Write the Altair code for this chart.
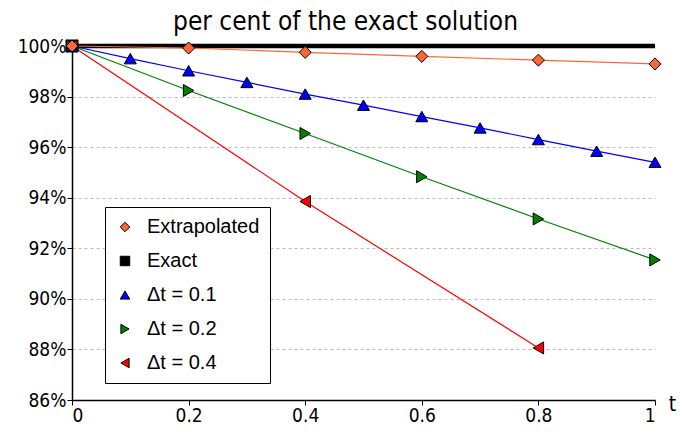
import altair as alt
import pandas as pd

series = ["Extrapolated", "Exact", "Δt = 0.1", "Δt = 0.2", "Δt = 0.4"]
colors = ["#FF6633", "#000000", "#0000FF", "#008000", "#FF0000"]
shapes = ["diamond", "square", "triangle-up", "triangle-right", "triangle-left"]

x_extra = [0, 0.2, 0.4, 0.6, 0.8, 1.0]
y_extra = [100, 99.92, 99.75, 99.59, 99.44, 99.29]
x_exact = [0, 1.0]
y_exact = [100, 100]
x_01 = [0, 0.1, 0.2, 0.3, 0.4, 0.5, 0.6, 0.7, 0.8, 0.9, 1.0]
y_01 = [100, 99.50, 99.02, 98.56, 98.10, 97.66, 97.21, 96.76, 96.30, 95.84, 95.40]
x_02 = [0, 0.2, 0.4, 0.6, 0.8, 1.0]
y_02 = [100, 98.24, 96.54, 94.83, 93.16, 91.54]
x_04 = [0, 0.4, 0.8]
y_04 = [100, 93.85, 88.06]

rows = []
for name, xs, ys in [("Exact", x_exact, y_exact), ("Δt = 0.4", x_04, y_04),
                     ("Δt = 0.2", x_02, y_02), ("Δt = 0.1", x_01, y_01),
                     ("Extrapolated", x_extra, y_extra)]:
    for xv, yv in zip(xs, ys):
        rows.append({"s": name, "x": xv, "y": yv})
df = pd.DataFrame(rows)
pts = df[~((df.s == "Exact") & (df.x > 0))]

xs_ = alt.X("x:Q", scale=alt.Scale(domain=[0, 1], nice=False),
            axis=alt.Axis(values=[0, 0.2, 0.4, 0.6, 0.8, 1], grid=False,
                          labelExpr="datum.value == 0 ? '0' : datum.value == 1 ? '1' : format(datum.value, '.1f')",
                          title="t", titleAnchor="start", titleAlign="center",
                          titleX=600, titleY=4,
                          titleFontSize=21, titleFontWeight="normal", titleBaseline="middle",
                          titleFont="DejaVu Sans Condensed"))
ys_ = alt.Y("y:Q", scale=alt.Scale(domain=[86, 100], nice=False),
            axis=alt.Axis(values=[86, 88, 90, 92, 94, 96, 98, 100], title=None,
                          labelExpr="datum.value + '%'", grid=True,
                          gridDash=[3, 3], gridColor="#bbbbbb"))
leg = dict(title=None, orient="none", legendX=33, legendY=161,
           labelFontSize=20, labelFont="Liberation Sans", labelColor="black",
           strokeColor="black", padding=10, rowPadding=14,
           symbolSize=90, symbolStrokeColor="black", symbolStrokeWidth=1,
           labelOffset=12, fillColor="white")
col = alt.Color("s:N", scale=alt.Scale(domain=series, range=colors), legend=alt.Legend(**leg))
shp = alt.Shape("s:N", scale=alt.Scale(domain=series, range=shapes), legend=alt.Legend(**leg))

layers = []
for name, c in zip(series, colors):
    w = 4.5 if name == "Exact" else 1.2
    layers.append(alt.Chart(df).transform_filter(alt.datum.s == name)
                  .mark_line(strokeWidth=w, color=c).encode(x=xs_, y=ys_))
# draw exact first (underneath)
layers = [layers[1], layers[4], layers[3], layers[2], layers[0]]
points = alt.Chart(pts).mark_point(filled=True, size=145, stroke="black", strokeWidth=1, opacity=1).encode(
    x=xs_, y=ys_, color=col, shape=shp)

chart = alt.layer(*layers, points).properties(
    width=583, height=354,
    title=alt.TitleParams("per cent of the exact solution", fontSize=26, fontWeight="normal",
                          font="DejaVu Sans Condensed", offset=2, dx=-18),
    padding={"left": 64, "top": 38, "right": 21, "bottom": 27},
    autosize=alt.AutoSizeParams(type="none"),
).configure_axis(
    labelFontSize=19, labelFont="DejaVu Sans Condensed", labelColor="black",
    domainColor="black", tickColor="black", tickSize=5, labelPadding=1,
    domainWidth=1.5,
).configure_view(stroke=None)

chart.save("out.html", embed_options={"renderer": "svg", "actions": False})
